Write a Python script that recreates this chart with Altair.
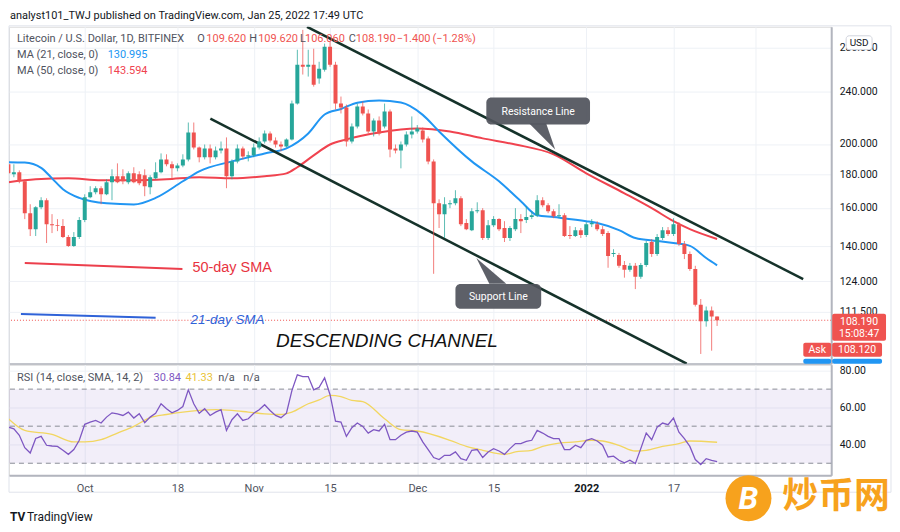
import altair as alt
import pandas as pd

# ---------------- data ----------------
dates = pd.date_range("2021-09-17", "2022-01-25", freq="D")

open_p = [
    186.3, 179.9, 181.2, 175.6, 157.1, 148.6, 160.4, 164.4, 151.2, 150.7, 150.2, 144.6, 140.2, 144.6,
    153.4, 166.1, 169.0, 171.4, 167.8, 175.0, 178.7, 178.7, 175.0, 180.5, 179.9, 179.3, 172.0, 177.4, 181.2, 189.5,
    186.3, 183.7, 185.6, 189.5, 208.2, 197.5, 190.9, 196.9, 190.9, 195.5, 196.9, 178.7, 188.2, 196.9, 191.5,
    192.2, 197.5, 201.7, 207.4, 202.4, 199.6, 198.2, 203.2, 230.2, 263.6, 261.7, 263.6, 251.2, 259.0, 280.6,
    263.6, 230.2, 227.0, 201.7, 212.5, 227.8, 222.4, 208.9, 217.1, 212.5, 223.9, 196.9, 195.5, 199.6, 206.7,
    208.9, 209.6, 203.9, 188.2, 162.7, 156.6, 162.1, 162.7, 165.5, 151.8, 148.1, 158.2, 158.8, 144.1, 150.7, 153.9,
    149.2, 144.1, 148.6, 153.9, 153.4, 155.0, 156.0, 164.4, 161.5, 158.2, 155.5, 156.0, 145.6, 145.1, 148.1,
    145.6, 151.2, 151.2, 148.6, 146.6, 136.3, 135.8, 131.2, 129.0, 130.8, 125.9, 131.2, 142.1, 136.3, 144.1,
    148.1, 146.1, 151.2, 141.1, 136.3, 129.4, 114.2, 107.8, 111.9, 109.62,
]
high_p = [
    188.2, 186.3, 182.4, 176.8, 162.1, 161.0, 166.1, 165.5, 156.6, 153.9, 153.9, 145.6, 147.1, 155.0,
    167.8, 172.6, 172.6, 172.6, 176.8, 183.1, 186.9, 183.1, 181.8, 184.4, 181.8, 183.1, 179.3, 187.6, 193.5, 192.9,
    188.2, 186.9, 192.9, 215.5, 215.5, 198.2, 199.6, 199.6, 198.2, 201.7, 204.6, 189.5, 199.6, 198.2, 194.9,
    200.3, 204.6, 209.6, 208.9, 204.6, 201.7, 203.9, 232.6, 277.7, 297.6, 277.7, 278.7, 266.3, 283.7, 285.5,
    266.3, 235.9, 229.4, 214.8, 230.2, 231.8, 225.5, 218.6, 220.1, 230.2, 225.5, 199.6, 201.7, 208.9, 220.1,
    213.6, 211.8, 205.3, 189.5, 164.9, 166.1, 164.4, 170.2, 166.7, 153.9, 159.9, 163.2, 159.9, 153.4, 155.5, 154.4,
    152.8, 150.2, 159.9, 156.6, 161.0, 158.2, 167.3, 166.1, 162.7, 159.3, 162.1, 157.1, 150.2, 149.7, 149.2,
    152.3, 153.9, 152.8, 150.2, 147.6, 138.6, 136.8, 133.0, 132.1, 132.1, 132.1, 142.6, 143.6, 146.1, 149.7,
    149.7, 154.4, 152.3, 142.6, 137.5, 130.8, 116.5, 113.5, 113.5, 109.62,
]
low_p = [
    179.3, 178.1, 174.4, 153.9, 145.1, 145.1, 159.3, 141.6, 146.6, 147.6, 144.1, 139.7, 139.7, 143.6,
    152.3, 165.5, 167.8, 162.1, 167.3, 164.4, 174.4, 173.8, 173.8, 174.4, 173.2, 166.7, 167.8, 176.8, 180.5, 185.0,
    176.8, 181.8, 184.4, 188.2, 196.2, 187.6, 189.5, 186.9, 189.5, 193.5, 171.4, 176.8, 186.9, 189.5, 188.2,
    190.9, 196.2, 200.3, 201.0, 197.5, 194.9, 197.5, 202.4, 229.4, 254.7, 252.9, 244.2, 246.7, 257.3, 261.7,
    225.5, 222.4, 198.2, 200.3, 211.1, 220.9, 207.4, 205.3, 206.0, 211.1, 190.9, 193.5, 183.7, 198.2, 203.9,
    207.4, 201.0, 186.3, 127.2, 149.2, 144.1, 159.9, 161.5, 150.2, 148.1, 147.6, 157.1, 143.1, 143.1, 149.7, 147.6,
    142.1, 142.6, 147.6, 146.6, 151.8, 153.9, 155.0, 160.4, 157.1, 154.4, 154.4, 144.6, 143.6, 144.6, 144.1,
    144.6, 149.7, 147.6, 145.1, 129.9, 134.9, 129.9, 125.5, 128.1, 120.6, 125.0, 130.3, 134.9, 135.4, 143.1,
    145.1, 145.1, 140.2, 133.9, 128.5, 113.5, 96.2, 105.8, 97.3, 106.06,
]
close_p = [
    180.5, 181.2, 175.6, 157.1, 148.6, 160.4, 164.4, 151.2, 150.7, 150.2, 144.6, 140.2, 144.6, 153.4,
    166.1, 169.0, 171.4, 167.8, 175.0, 178.7, 175.0, 175.6, 180.5, 175.0, 174.4, 172.6, 178.1, 181.2, 189.5, 186.3,
    183.7, 185.6, 189.5, 208.2, 197.5, 190.9, 196.9, 190.9, 195.5, 196.9, 178.7, 188.2, 196.9, 191.5, 192.2,
    197.5, 201.7, 207.4, 202.4, 199.6, 198.2, 203.2, 230.2, 263.6, 261.7, 263.6, 245.9, 259.9, 280.6, 263.6,
    230.2, 227.0, 201.7, 212.5, 227.8, 222.4, 208.9, 217.1, 207.4, 223.9, 196.2, 195.5, 199.6, 206.7, 208.9,
    211.1, 203.2, 188.2, 162.7, 156.6, 162.1, 162.7, 165.5, 151.2, 148.6, 158.2, 158.8, 144.1, 150.7, 153.9, 148.6,
    144.1, 149.2, 153.9, 152.8, 155.0, 156.0, 164.4, 161.5, 158.2, 155.5, 156.0, 145.1, 145.1, 148.1, 145.6,
    151.2, 151.8, 148.6, 146.1, 135.4, 136.8, 130.8, 129.0, 130.8, 125.9, 131.2, 141.6, 136.3, 144.6, 148.1,
    146.1, 151.2, 141.1, 136.3, 129.4, 114.2, 107.8, 111.9, 109.62, 108.19,
]
rsi_vals = [
    49.5, 48.6, 45.1, 38.4, 35.5, 43.4, 44.5, 39.7, 39.3, 39.1, 37.0, 34.8, 37.4, 42.4,
    51.0, 52.2, 53.1, 51.7, 54.9, 57.2, 56.6, 55.8, 57.6, 54.4, 56.7, 51.9, 54.9, 57.0, 62.1, 59.4,
    57.2, 58.5, 60.6, 69.6, 62.1, 57.0, 59.4, 55.8, 57.6, 58.9, 47.7, 53.5, 56.7, 53.1, 54.0,
    57.0, 58.9, 61.6, 58.5, 55.8, 54.6, 57.0, 69.2, 77.7, 76.8, 76.8, 69.6, 71.0, 76.1, 67.0,
    52.7, 52.2, 44.5, 49.2, 51.7, 49.9, 46.3, 48.1, 47.4, 51.0, 42.7, 42.7, 45.1, 46.8, 47.4,
    46.8, 41.5, 37.4, 33.1, 32.0, 34.3, 34.3, 36.1, 32.5, 31.6, 37.0, 37.4, 33.1, 36.1, 37.9, 36.6,
    34.8, 37.9, 40.6, 40.6, 41.8, 42.4, 47.7, 46.3, 44.5, 43.3, 43.3, 37.4, 37.4, 39.7, 38.4,
    42.4, 43.3, 42.0, 39.7, 33.4, 33.8, 31.6, 30.2, 31.6, 29.8, 37.9, 46.3, 42.7, 49.5, 51.7,
    50.8, 54.4, 46.8, 43.3, 39.1, 32.0, 29.3, 32.5, 31.6, 30.84,
]

ma21_dates = ["2021-09-17", "2021-09-20", "2021-09-23", "2021-09-25", "2021-09-27", "2021-09-30",
              "2021-10-05", "2021-10-10", "2021-10-14", "2021-10-19", "2021-10-22", "2021-10-28",
              "2021-11-03", "2021-11-07", "2021-11-11", "2021-11-14", "2021-11-17", "2021-11-20",
              "2021-11-24", "2021-11-28", "2021-12-02", "2021-12-05", "2021-12-11", "2021-12-16",
              "2021-12-20", "2021-12-23", "2021-12-26", "2022-01-01", "2022-01-03", "2022-01-07",
              "2022-01-10", "2022-01-14", "2022-01-17", "2022-01-20", "2022-01-23", "2022-01-25"]
ma21_vals = [187.6, 187.4, 184.0, 177.4, 170.8, 165.7, 162.6, 162.0, 165.7, 175.6, 181.8, 188.2,
             193.5, 196.9, 207.4, 221.6, 225.9, 230.9, 232.6, 231.0, 221.3, 208.9, 188.2, 175.6,
             163.8, 156.0, 155.0, 152.8, 151.8, 148.1, 144.1, 142.6, 141.6, 140.2, 134.4, 130.995]

ma50_dates = ["2021-09-17", "2021-09-22", "2021-09-28", "2021-10-04", "2021-10-10", "2021-10-16",
              "2021-10-22", "2021-10-28", "2021-11-03", "2021-11-07", "2021-11-09", "2021-11-12",
              "2021-11-15", "2021-11-18", "2021-11-24", "2021-12-01", "2021-12-07", "2021-12-13",
              "2021-12-19", "2021-12-26", "2022-01-01", "2022-01-08", "2022-01-13", "2022-01-17",
              "2022-01-20", "2022-01-25"]
ma50_vals = [175.0, 176.8, 177.4, 176.2, 176.2, 176.8, 178.1, 177.4, 178.7, 180.5, 184.4, 192.2,
             199.6, 203.2, 208.2, 211.1, 208.9, 203.9, 199.6, 192.9, 180.5, 168.4, 159.9, 152.8,
             148.6, 143.594]

rsi_ma_dates = ["2021-09-17", "2021-09-20", "2021-09-25", "2021-09-29", "2021-10-01", "2021-10-04",
                "2021-10-07", "2021-10-10", "2021-10-13", "2021-10-16", "2021-10-19", "2021-10-22",
                "2021-10-25", "2021-10-28", "2021-10-31", "2021-11-03", "2021-11-06", "2021-11-08",
                "2021-11-11", "2021-11-13", "2021-11-15", "2021-11-17", "2021-11-19", "2021-11-21",
                "2021-11-25", "2021-11-28", "2021-12-01", "2021-12-07", "2021-12-10", "2021-12-13",
                "2021-12-17", "2021-12-19", "2021-12-22", "2021-12-24", "2021-12-27", "2021-12-30",
                "2022-01-02", "2022-01-04", "2022-01-07", "2022-01-10", "2022-01-12", "2022-01-15",
                "2022-01-18", "2022-01-20", "2022-01-25"]
rsi_ma_vals = [54.0, 47.7, 45.6, 41.5, 41.5, 42.7, 46.3, 49.9, 54.6, 56.3, 57.6, 58.5,
               58.9, 58.5, 57.6, 56.7, 56.3, 57.6, 62.1, 64.2, 66.6, 66.0, 63.9, 63.3,
               54.0, 48.1, 47.4, 42.4, 39.1, 37.0, 34.8, 36.1, 37.0, 39.1, 40.9, 41.5,
               42.4, 42.0, 39.7, 36.6, 37.0, 39.1, 40.6, 42.0, 41.33]

# channel lines (two anchor points each)
chan_id = ["res", "res", "sup", "sup"]
chan_date = ["2021-11-10T18:30:00", "2022-02-09T19:00:00", "2021-10-24T01:00:00", "2022-01-19T10:00:00"]
chan_price = [300.8, 124.9, 218.5, 93.0]

# short explanation lines next to the SMA notes
sma50_note_date = ["2021-09-20T00:00:00", "2021-10-18T22:00:00"]
sma50_note_price = [132.1, 129.4]
sma21_note_date = ["2021-09-19T07:00:00", "2021-10-14T00:00:00"]
sma21_note_price = [110.6, 109.1]

price_ticks = [111.5, 124, 140, 160, 180, 200, 240, 280]
rsi_ticks = [40, 60, 80]
rsi_levels = [70, 50, 30]
last_price = 108.19

# ---------------- style ----------------
UP, DOWN = "#26a69a", "#ef5350"
GRID = "#eef1f6"
SEP = "#b2b5be"
TXT = "#131722"
GRAY = "#50535e"
FONT = "Roboto"
W, H_PRICE, H_RSI = 825, 338, 111


def dt(y, m, d, h=0, mi=0):
    return alt.DateTime(year=y, month=m, date=d, hours=h, minutes=mi)


TIME_DOMAIN = [dt(2021, 9, 17, 2, 33), dt(2022, 2, 14, 22, 20)]
TIME_TICKS = [dt(2021, 10, 1), dt(2021, 10, 18), dt(2021, 11, 1), dt(2021, 11, 15), dt(2021, 12, 1),
              dt(2021, 12, 15), dt(2022, 1, 1), dt(2022, 1, 17), dt(2022, 2, 1)]
TSCALE = alt.Scale(domain=TIME_DOMAIN, nice=False, padding=0)
PSCALE = alt.Scale(type="log", domain=[93.0, 300.8], nice=False, zero=False, padding=0)
RSCALE = alt.Scale(domain=[23.5, 83.2], nice=False, zero=False, padding=0)

x_top_axis = alt.Axis(values=TIME_TICKS, labels=False, ticks=False, grid=True, gridColor=GRID,
                      domain=True, domainColor=SEP, domainWidth=2, title=None)
is2022 = "month(datum.value)==0 && date(datum.value)==1"
x_bot_axis = alt.Axis(values=TIME_TICKS, ticks=False, grid=True, gridColor=GRID, domain=True,
                      domainColor=SEP, domainWidth=2, title=None, labelPadding=7,
                      labelFont=FONT, labelFontSize=11,
                      labelColor={"condition": {"test": is2022, "value": TXT}, "value": GRAY},
                      labelFontWeight={"condition": {"test": is2022, "value": "bold"}, "value": "normal"},
                      labelExpr="month(datum.value)==0 && date(datum.value)==1 ? '2022' : "
                                "date(datum.value)==1 ? timeFormat(datum.value, '%b') : "
                                "timeFormat(datum.value, '%-d')")
p_axis = alt.Axis(orient="right", values=price_ticks, format=".3f", title=None, grid=True,
                  gridColor=GRID, ticks=False, labelPadding=8, domain=True, domainColor=SEP,
                  domainWidth=2, labelColor=TXT, labelFont=FONT, labelFontSize=10.5)
r_axis = alt.Axis(orient="right", values=rsi_ticks, format=".2f", title=None, grid=True,
                  gridColor=GRID, ticks=False, labelPadding=8, domain=True, domainColor=SEP,
                  domainWidth=2, labelColor=TXT, labelFont=FONT, labelFontSize=10.5)


def PX(f):
    return alt.X(f, type="temporal", scale=TSCALE, axis=x_top_axis)


def PY(f):
    return alt.Y(f, type="quantitative", scale=PSCALE, axis=p_axis)


def RX(f):
    return alt.X(f, type="temporal", scale=TSCALE, axis=x_bot_axis)


def RY(f):
    return alt.Y(f, type="quantitative", scale=RSCALE, axis=r_axis)


ONE = alt.Data(values=[{}])


def label(text, x, y, color, size=11, weight="normal", align="left", style="normal", font=FONT):
    return alt.Chart(ONE).mark_text(align=align, baseline="middle", font=font, fontSize=size,
                                    fontWeight=weight, fontStyle=style, color=color, clip=False
                                    ).encode(x=alt.value(x), y=alt.value(y), text=alt.value(text))


def box(x1, x2, y1, y2, fill, radius=2, stroke=None):
    kw = dict(fill=fill, cornerRadius=radius, clip=False)
    if stroke:
        kw.update(stroke=stroke, strokeWidth=1)
    return alt.Chart(ONE).mark_rect(**kw).encode(x=alt.value(x1), x2=alt.value(x2),
                                                  y=alt.value(y1), y2=alt.value(y2))


# ---------------- price panel ----------------
candles = pd.DataFrame({"date": dates, "open": open_p, "high": high_p, "low": low_p, "close": close_p})
candles["dir"] = ["up" if c >= o else "down" for o, c in zip(open_p, close_p)]
color = alt.Color("dir:N", scale=alt.Scale(domain=["up", "down"], range=[UP, DOWN]), legend=None)

base = alt.Chart(candles)
wicks = base.mark_rule(strokeWidth=1, opacity=0.75, clip=True).encode(x=PX("date"), y=PY("low"), y2="high", color=color)
bodies = base.mark_bar(size=4, clip=True).encode(x=PX("date"), y=PY("open"), y2="close", color=color)

frame = alt.Chart(ONE).mark_rect(fillOpacity=0, stroke="#e0e3eb", strokeWidth=1, clip=False).encode(
    x=alt.value(0), x2=alt.value(885), y=alt.value(-1), y2=alt.value(467))

price_line = alt.Chart(pd.DataFrame({"p": [last_price]})).mark_rule(
    color=DOWN, strokeDash=[1, 2], strokeWidth=1, clip=True).encode(y=PY("p"))

ma21 = alt.Chart(pd.DataFrame({"d": ma21_dates, "v": ma21_vals})).mark_line(
    color="#2196f3", strokeWidth=2, interpolate="monotone", clip=True).encode(x=PX("d"), y=PY("v"))
ma50 = alt.Chart(pd.DataFrame({"d": ma50_dates, "v": ma50_vals})).mark_line(
    color="#f0434f", strokeWidth=2, interpolate="monotone", clip=True).encode(x=PX("d"), y=PY("v"))

channel = alt.Chart(pd.DataFrame({"id": chan_id, "d": chan_date, "p": chan_price})).mark_line(
    color="#15322a", strokeWidth=2.5, clip=True).encode(x=PX("d"), y=PY("p"), detail="id:N")

note_line50 = alt.Chart(pd.DataFrame({"d": sma50_note_date, "p": sma50_note_price})).mark_line(
    strokeWidth=2, color="#ec3f4c", clip=True).encode(x=PX("d"), y=PY("p"))
note_line21 = alt.Chart(pd.DataFrame({"d": sma21_note_date, "p": sma21_note_price})).mark_line(
    strokeWidth=2, color="#2f62d8", clip=True).encode(x=PX("d"), y=PY("p"))

notes = pd.DataFrame({
    "d": ["2021-10-20T18:00:00", "2021-10-20T10:00:00", "2021-11-05T02:00:00"],
    "p": [129.8, 108.4, 100.7],
    "t": ["50-day SMA", "21-day SMA", "DESCENDING CHANNEL"],
})
note50 = alt.Chart(notes.iloc[[0]]).mark_text(align="left", baseline="middle", font="Liberation Sans",
                                              fontSize=14.5, color="#e8333f").encode(x=PX("d"), y=PY("p"), text="t:N")
note21 = alt.Chart(notes.iloc[[1]]).mark_text(align="left", baseline="middle", font="Liberation Sans",
                                              fontSize=13.5, fontStyle="italic", color="#2f62d8").encode(x=PX("d"), y=PY("p"), text="t:N")
noteCh = alt.Chart(notes.iloc[[2]]).mark_text(align="left", baseline="middle", font="Liberation Sans",
                                              fontSize=19, fontStyle="italic", color="#111111").encode(x=PX("d"), y=PY("p"), text="t:N")

# callouts
call_boxes = alt.Chart(pd.DataFrame({
    "d1": ["2021-12-13T16:00:00", "2021-12-08T00:00:00"],
    "d2": ["2022-01-01T16:30:00", "2021-12-23T17:30:00"],
    "p1": [235.1, 122.8], "p2": [214.0, 112.6],
})).mark_rect(cornerRadius=5, fill="#4f525b", opacity=0.92, clip=False).encode(
    x=PX("d1"), x2="d2", y=PY("p1"), y2="p2")
ptr_res = alt.Chart(pd.DataFrame({"d": ["2021-12-23T22:00:00"], "p": [206.0]})).mark_point(
    shape="M -0.929 -0.857 L 0.286 -0.857 L 0.929 1 Z", size=784, filled=True, fill="#4f525b",
    opacity=0.92, strokeWidth=0).encode(x=PX("d"), y=PY("p"))
ptr_sup = alt.Chart(pd.DataFrame({"d": ["2021-12-14T14:00:00"], "p": [128.5]})).mark_point(
    shape="M -1 -0.867 L -0.133 0.867 L 1 0.867 Z", size=900, filled=True, fill="#4f525b",
    opacity=0.92, strokeWidth=0).encode(x=PX("d"), y=PY("p"))
call_text = alt.Chart(pd.DataFrame({
    "d": ["2021-12-23T04:00:00", "2021-12-15T21:00:00"],
    "p": [223.9, 117.4], "t": ["Resistance  Line", "Support Line"],
})).mark_text(align="center", baseline="middle", font=FONT, fontSize=10.5, color="white").encode(
    x=PX("d"), y=PY("p"), text="t:N")

price_layers = [
    frame, price_line, ma50, ma21, channel, wicks, bodies, note_line50, note_line21,
    note50, note21, noteCh, call_boxes, ptr_res, ptr_sup, call_text,
    label("analyst101_TWJ published on TradingView.com, Jan 25, 2022 17:49 UTC", 1, -11, TXT, size=11),
    label("Litecoin / U.S. Dollar, 1D, BITFINEX", 8, 12.5, GRAY),
    label("O", 189, 12.5, GRAY), label("109.620", 198, 12.5, DOWN),
    label("H", 241, 12.5, GRAY), label("109.620", 250, 12.5, DOWN),
    label("L", 292, 12.5, GRAY), label("106.060", 297, 12.5, DOWN),
    label("C", 341, 12.5, GRAY), label("108.190", 348, 12.5, DOWN),
    label("\u22121.400", 389, 12.5, DOWN), label("(\u22121.28%)", 425, 12.5, DOWN),
    label("MA (21, close, 0)", 8, 28.5, GRAY), label("130.995", 99, 28.5, "#2196f3"),
    label("MA (50, close, 0)", 8, 44.5, GRAY), label("143.594", 99, 44.5, "#f0434f"),
    box(840, 866, 9, 23, "white", radius=3, stroke="#d1d4dc"),
    label("USD", 853, 16, TXT, size=10, align="center"),
    box(826, 880, 288, 315, DOWN),
    label("108.190", 853, 296.5, "white", size=10.5, align="center"),
    label("15:08:47", 853, 308, "white", size=10.5, align="center"),
    box(797, 825, 317, 331, DOWN), label("Ask", 811, 324, "white", size=10.5, align="center"),
    box(826, 876, 317, 331, DOWN), label("108.120", 851, 324, "white", size=10.5, align="center"),
    box(797, 825, 333, 338, "#2196f3"), box(826, 876, 333, 338, "#2196f3"),
]
price_panel = alt.layer(*price_layers).properties(width=W, height=H_PRICE)

# ---------------- RSI panel ----------------
band = alt.Chart(pd.DataFrame({"hi": [70], "lo": [30]})).mark_rect(
    color="#7e57c2", opacity=0.1).encode(x=alt.value(0), x2=alt.value("width"), y=RY("hi"), y2="lo")
levels = alt.Chart(pd.DataFrame({"v": rsi_levels})).mark_rule(
    color="#8a8d96", strokeDash=[5, 4], strokeWidth=1).encode(y=RY("v"))
rsi_line = alt.Chart(pd.DataFrame({"d": dates, "v": rsi_vals})).mark_line(
    color="#7e57c2", strokeWidth=1.3, clip=True).encode(x=RX("d"), y=RY("v"))
rsi_ma = alt.Chart(pd.DataFrame({"d": rsi_ma_dates, "v": rsi_ma_vals})).mark_line(
    color="#f2d660", strokeWidth=1.3, interpolate="monotone", clip=True).encode(x=RX("d"), y=RY("v"))

coin = alt.Chart(ONE).mark_point(shape="circle", size=2124, filled=True, color="#f7a21d",
                                 opacity=1, clip=False).encode(x=alt.value(742), y=alt.value(134))

rsi_layers = [
    band, levels, rsi_ma, rsi_line,
    label("RSI (14, close, SMA, 14, 2)", 8, 13, GRAY),
    label("30.84", 145, 13, "#7e57c2"), label("41.33", 177, 13, "#e9c33a"),
    label("n/a", 210, 13, GRAY), label("n/a", 235, 13, GRAY),
    label("TV", 1, 153, TXT, size=12, weight="bold"),
    label("TradingView", 18, 153, TXT, size=12),
    coin,
    label("B", 742, 135, "white", size=32, weight="bold", align="center", style="italic"),
    label("炒币网", 776, 133, "#f7a21d", size=36, weight="bold", font="Noto Sans CJK SC"),
]
rsi_panel = alt.layer(*rsi_layers).properties(width=W, height=H_RSI)

chart = alt.vconcat(price_panel, rsi_panel, spacing=1, bounds="flush").properties(padding=0).configure_view(
    stroke=None).configure(font=FONT)

chart.save("out.html", embed_options={"renderer": "svg", "actions": False})
